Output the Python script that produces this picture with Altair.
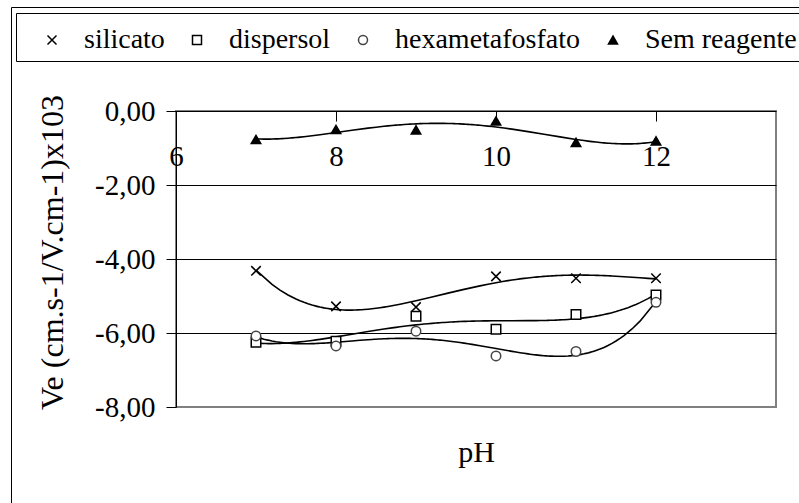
import altair as alt
import pandas as pd

# pH values and electrophoretic mobility for each reagent
ph = [7, 8, 9, 10, 11, 12]
silicato = [-4.32, -5.28, -5.30, -4.47, -4.52, -4.52]
dispersol = [-6.25, -6.22, -5.55, -5.90, -5.50, -4.97]
hexametafosfato = [-6.08, -6.35, -5.95, -6.62, -6.50, -5.17]
sem_reagente = [-0.77, -0.50, -0.51, -0.27, -0.85, -0.81]

series_names = ["silicato", "dispersol", "hexametafosfato", "Sem reagente"]
series_values = [silicato, dispersol, hexametafosfato, sem_reagente]

x_ticks = [6, 8, 10, 12]
y_ticks = [0, -2, -4, -6, -8]

rows = []
for name, vals in zip(series_names, series_values):
    for p, v in zip(ph, vals):
        rows.append({"serie": name, "ph": p, "ve": v})
df = pd.DataFrame(rows)

FONT = "Liberation Serif"
W, H = 600, 296

x_enc = alt.X(
    "ph:Q",
    scale=alt.Scale(domain=[6, 13.5], nice=False, zero=False),
    axis=alt.Axis(
        orient="bottom",
        offset=-H,
        values=x_ticks,
        title="pH",
        titleFont=FONT,
        titleFontSize=30,
        titleFontWeight="normal",
        titleColor="black",
        titleX=W / 2,
        titleY=350,
        titleAlign="center",
        titleBaseline="alphabetic",
        labelFont=FONT,
        labelFontSize=29,
        labelColor="black",
        labelFlush=False,
        labelOverlap=False,
        labelBaseline="alphabetic",
        labelPadding=44,
        tickSize=10,
        tickColor="black",
        domainColor="black",
        grid=False,
    ),
)

y_enc = alt.Y(
    "ve:Q",
    scale=alt.Scale(domain=[-8, 0], nice=False, zero=False),
    axis=alt.Axis(
        values=y_ticks,
        title="Ve (cm.s-1/V.cm-1)x103",
        titleFont=FONT,
        titleFontSize=32,
        titleFontWeight="normal",
        titleColor="black",
        titleAngle=270,
        titleX=-124,
        titleY=141,
        titleAlign="center",
        titleBaseline="middle",
        labelFont=FONT,
        labelFontSize=29,
        labelColor="black",
        labelPadding=11,
        labelExpr="(datum.value < 0 ? '-' : '') + replace(format(abs(datum.value), '.2f'), '.', ',')",
        tickSize=10,
        tickColor="black",
        domainColor="black",
        grid=True,
        gridColor="black",
        gridWidth=1,
        gridOpacity={"condition": {"test": "datum.value <= -8 || datum.value >= 0", "value": 0}, "value": 1},
    ),
)

frame_df = pd.DataFrame({"k": [0]})

outer_frame = alt.Chart(frame_df).mark_rect(
    fillOpacity=0, stroke="black", strokeWidth=1
).encode(
    x=alt.value(-164.5), x2=alt.value(W + 60),
    y=alt.value(-103.5), y2=alt.value(H + 140),
)

legend_box = alt.Chart(frame_df).mark_rect(
    fillOpacity=0, stroke="black", strokeWidth=1
).encode(
    x=alt.value(-159.5), x2=alt.value(W + 60),
    y=alt.value(-97.5), y2=alt.value(-49.5),
)

shape_scale = alt.Scale(
    domain=series_names,
    range=["M-1,-1L1,1M-1,1L1,-1", "square", "circle", "triangle-up"],
)
stroke_scale = alt.Scale(domain=series_names, range=["black", "black", "#444444", "black"])
fill_scale = alt.Scale(domain=series_names, range=["transparent", "white", "white", "black"])

trend = alt.Chart(df).transform_regression(
    "ph", "ve", groupby=["serie"], method="poly", order=4
).mark_line(color="black", strokeWidth=1.6).encode(
    x=x_enc, y=y_enc, detail="serie:N"
)

points = alt.Chart(df).mark_point(size=90, strokeWidth=1.5, opacity=1).encode(
    x=x_enc,
    y=y_enc,
    shape=alt.Shape("serie:N", scale=shape_scale, title=None),
    stroke=alt.Stroke("serie:N", scale=stroke_scale, title=None),
    fill=alt.Fill("serie:N", scale=fill_scale, title=None),
)

chart = alt.layer(outer_frame, legend_box, trend, points).properties(
    width=W,
    height=H,
    autosize=alt.AutoSizeParams(type="none"),
    padding={"left": 176, "top": 111, "right": 23, "bottom": 96},
    background="white",
).configure_view(
    stroke="#808080", strokeWidth=2
).configure_legend(
    orient="none",
    legendX=-138,
    legendY=-85,
    direction="horizontal",
    columns=4,
    columnPadding=18,
    padding=0,
    symbolSize=81,
    symbolStrokeWidth=1.5,
    labelOffset=18,
    labelFont=FONT,
    labelFontSize=28,
    labelColor="black",
    labelLimit=400,
)

chart.save("out.html", embed_options={"renderer": "svg", "actions": False})
